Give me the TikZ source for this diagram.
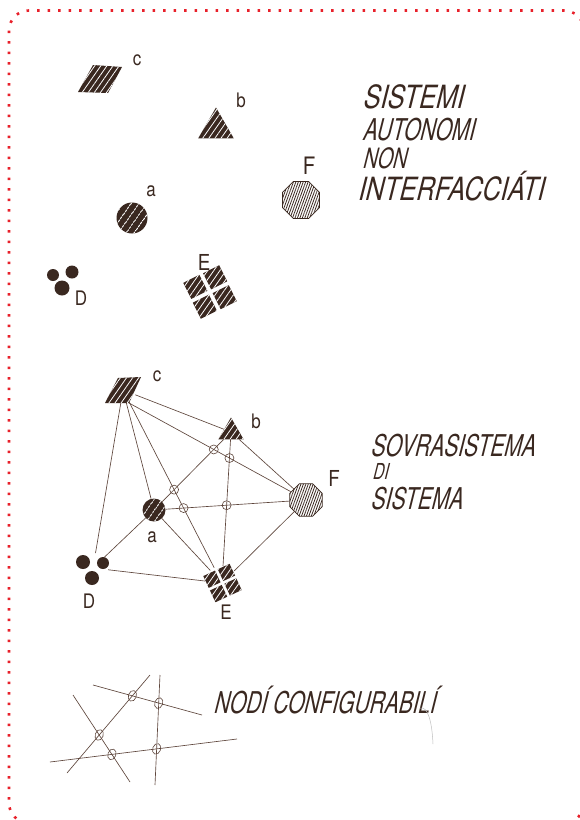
\documentclass[tikz,border=0pt]{standalone}
\usepackage{fontspec}
\usetikzlibrary{shapes.geometric,patterns.meta,intersections,calc}
\newfontfamily\hand[FakeSlant=0.25,FakeStretch=0.7]{TeX Gyre Heros}
\newfontfamily\handw[FakeSlant=0.25,FakeStretch=0.79]{TeX Gyre Heros}
\newfontfamily\labf[FakeStretch=0.85]{TeX Gyre Heros}
\definecolor{ink}{HTML}{3A2820}
\definecolor{wirec}{HTML}{5E463C}
\definecolor{dotred}{HTML}{E8202A}
\begin{document}
\begin{tikzpicture}[x=1pt,y=-1pt,
  inkhatch/.style={fill=ink, postaction={pattern={Lines[angle=55,distance=5pt,line width=0.8pt]}, pattern color=white}},
  darkhatch/.style={fill=ink, postaction={pattern={Lines[angle=55,distance=6.5pt,line width=0.7pt]}, pattern color=white}},
  lighthatch/.style={draw=ink, line width=0.8pt, fill=white, postaction={pattern={Lines[angle=70,distance=2.3pt,line width=0.8pt]}, pattern color=ink}},
  hub/.style={circle, inner sep=0pt, minimum size=#1},
  wire/.style={draw=wirec, line width=0.65pt},
  joint/.style={circle, draw=wirec, line width=0.6pt, inner sep=0pt, minimum size=9pt},
  bjoint/.style={ellipse, draw=wirec, line width=0.6pt, inner sep=0pt, minimum width=8pt, minimum height=11pt, rotate=-20},
  tri/.style={regular polygon, regular polygon sides=3, inner sep=0pt, inkhatch},
  octa/.style={regular polygon, regular polygon sides=8, inner sep=0pt, lighthatch},
  ball/.style={circle, inner sep=0pt, fill=ink},
  sq/.style={rectangle, inner sep=0pt, inkhatch},
  lab/.style={inner sep=0pt, text=ink, font=\labf\fontsize{20}{20}\selectfont},
  hw/.style={anchor=base west, inner sep=0pt, text=ink}
]
\useasboundingbox (0,0) rectangle (580,820);
\fill[white] (0,0) rectangle (580,820);
% red dotted border
\draw[dotred, line width=2.6pt, dash pattern=on 2.6pt off 7.9pt, rounded corners=20pt] (9,10.5) rectangle (584,823);

% ---------- top: autonomous systems ----------
\path[inkhatch] (93,65) -- (122,67) -- (108,93) -- (78,92) -- cycle;
\node[hub=28pt] (c1) at (100,79) {};
\node[tri, minimum size=41pt] (b1) at (216,128) {};
\node[octa, minimum size=40pt] (F1) at (301,200) {};
\node[circle, inner sep=0pt, minimum size=31pt, darkhatch] (a1) at (132,218) {};
\node[ball, minimum size=12pt] (D1a) at (53,275) {};
\node[ball, minimum size=13pt] (D1b) at (72,272) {};
\node[ball, minimum size=15pt] (D1c) at (62,288) {};
\node[sq, minimum size=18pt, rotate=26.6] (E1a) at (195.3,286.9) {};
\node[sq, minimum size=18pt, rotate=26.6] (E1b) at (215.1,277.3) {};
\node[sq, minimum size=18pt, rotate=26.6] (E1c) at (204.9,306.7) {};
\node[sq, minimum size=18pt, rotate=26.6] (E1d) at (224.7,297.1) {};

\node[lab] (lc1) at (137,60) {c};
\node[lab] (lb1) at (241,100) {b};
\node[lab, font=\labf\fontsize{24}{24}\selectfont] (lF1) at (309,166) {F};
\node[lab] (la1) at (151,191) {a};
\node[lab] (lD1) at (81,298) {D};
\node[lab, font=\labf\fontsize{22}{22}\selectfont] (lE1) at (204,262) {E};

\node[hw, font=\handw\fontsize{32}{32}\selectfont] (t1) at (362,108) {SISTEMI};
\node[hw, font=\hand\fontsize{30}{30}\selectfont] (t2) at (362,140) {AUTONOMI};
\node[hw, font=\hand\fontsize{28}{28}\selectfont] (t3) at (362,168) {NON};
\node[hw, font=\handw\fontsize{32}{32}\selectfont] (t4) at (357,200) {INTERFACCIÁTI};

% ---------- middle: system of systems ----------
\path[inkhatch] (118,378) -- (141,377) -- (129,403) -- (105,403) -- cycle;
\coordinate (c2br) at (129,403);
\node[hub=26pt] (c2) at (123,390) {};
\node[tri, minimum size=29pt] (b2) at (231,432) {};
\node[octa, minimum size=35pt] (F2) at (306,500) {};
\node[circle, inner sep=0pt, minimum size=23pt, darkhatch] (a2) at (154,510) {};
\node[ball, minimum size=14pt] (D2a) at (83,562) {};
\node[ball, minimum size=12pt] (D2b) at (103,563) {};
\node[ball, minimum size=14pt] (D2c) at (92,578) {};
\node[hub=30pt] (D2) at (93,568) {};
\node[sq, minimum size=13pt, rotate=25] (E2a) at (211.9,579.2) {};
\node[sq, minimum size=13pt, rotate=25] (E2b) at (226.4,572.4) {};
\node[sq, minimum size=13pt, rotate=25] (E2c) at (218.6,593.6) {};
\node[sq, minimum size=13pt, rotate=25] (E2d) at (233.1,586.9) {};
\node[hub=34pt] (E2) at (222,583) {};

\draw[wire, name path=cb] (c2) -- (b2);
\draw[wire, name path=cF] (c2br) -- (F2);
\draw[wire, name path=ca] (c2) -- (a2);
\draw[wire, name path=cE] (c2) -- (E2);
\draw[wire] (c2) -- (D2);
\draw[wire, name path=ba] (b2) -- (a2);
\draw[wire, name path=bE] (b2) -- (E2);
\draw[wire] (b2) -- (F2);
\draw[wire, name path=aF] (a2) -- (F2);
\draw[wire] (a2) -- (E2);
\draw[wire] (a2) -- (D2);
\draw[wire] (F2) -- (E2);
\draw[wire] (D2) -- (E2);

\path[name intersections={of=ba and cF, by=X1}];
\path[name intersections={of=bE and cF, by=X2}];
\path[name intersections={of=ba and cE, by=X3}];
\path[name intersections={of=aF and cE, by=X4}];
\path[name intersections={of=aF and bE, by=X5}];
\node[joint] (j1) at (X1) {};
\node[joint] (j2) at (X2) {};
\node[joint] (j3) at (X3) {};
\node[joint] (j4) at (X4) {};
\node[joint] (j5) at (X5) {};

\node[lab] (lc2) at (157,376) {c};
\node[lab] (lb2) at (256,421) {b};
\node[lab, font=\labf\fontsize{22}{22}\selectfont] (lF2) at (334,478) {F};
\node[lab] (la2) at (152,537) {a};
\node[lab] (lD2) at (89,601) {D};
\node[lab] (lE2) at (226,612) {E};

\node[hw, font=\hand\fontsize{30}{30}\selectfont] (t5) at (370,456) {SOVRASISTEMA};
\node[hw, font=\hand\fontsize{22}{22}\selectfont] (t6) at (372,479) {DI};
\node[hw, font=\hand\fontsize{30}{30}\selectfont] (t7) at (370,509) {SISTEMA};

% ---------- bottom: configurable nodes ----------
\coordinate (pA1) at (93,685);  \coordinate (pA2) at (202,715);
\coordinate (pB1) at (50,762);  \coordinate (pB2) at (237,739);
\coordinate (pC1) at (150,675); \coordinate (pC2) at (67,773);
\coordinate (pD1) at (73,695);  \coordinate (pD2) at (130,782);
\coordinate (pE1) at (160,675); \coordinate (pE2) at (155,785);
\draw[wire, name path=LA] (pA1) -- (pA2);
\draw[wire, name path=LB] (pB1) -- (pB2);
\draw[wire, name path=LC] (pC1) -- (pC2);
\draw[wire, name path=LD] (pD1) -- (pD2);
\draw[wire, name path=LE] (pE1) -- (pE2);
\path[name intersections={of=LA and LC, by=Y1}];
\path[name intersections={of=LA and LE, by=Y2}];
\path[name intersections={of=LC and LD, by=Y3}];
\path[name intersections={of=LD and LB, by=Y4}];
\path[name intersections={of=LE and LB, by=Y5}];
\node[bjoint] (k1) at (Y1) {};
\node[bjoint] (k2) at (Y2) {};
\node[bjoint] (k3) at (Y3) {};
\node[bjoint] (k4) at (Y4) {};
\node[bjoint] (k5) at (Y5) {};

\node[hw, font=\hand\fontsize{30}{30}\selectfont] (t8) at (213,713) {NODÍ CONFIGURABILÍ};
\draw[black!25, line width=0.5pt] (420,708) .. controls (428,706) and (432,722) .. (433,744);
\end{tikzpicture}
\end{document}
